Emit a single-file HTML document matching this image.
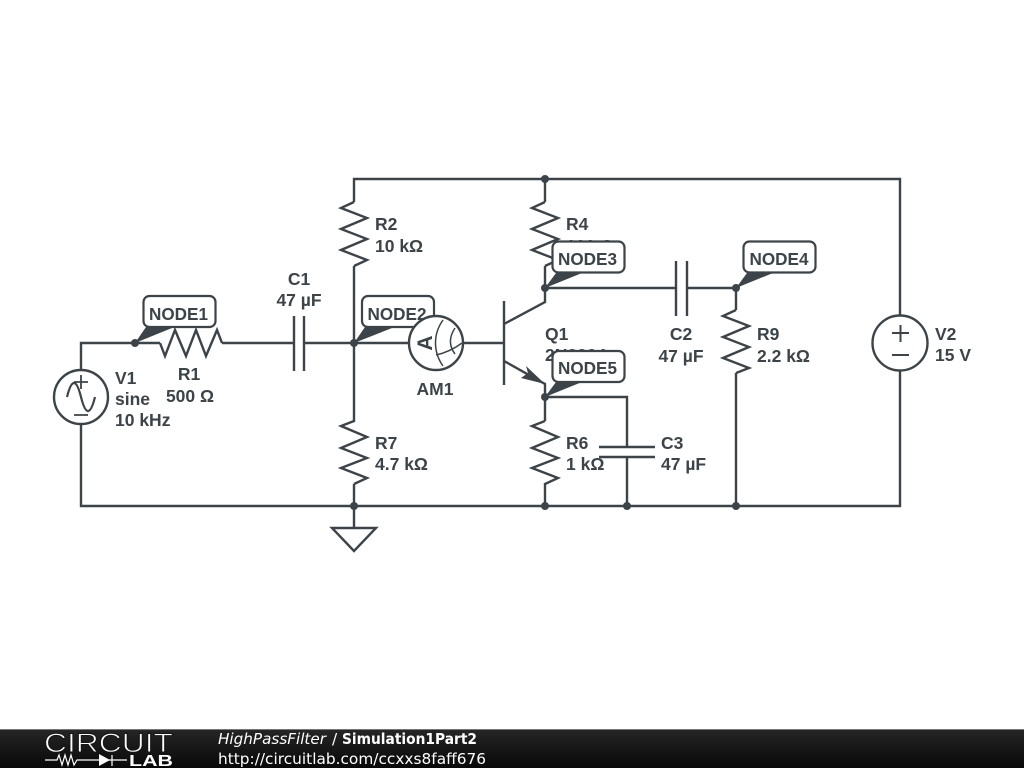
<!DOCTYPE html>
<html><head><meta charset="utf-8"><style>
html,body{margin:0;padding:0;background:#fff}
svg{display:block}
.w{fill:none;stroke:#3c4449;stroke-width:2.4;stroke-linejoin:miter}
.s{fill:none;stroke:#3c4449;stroke-width:1.8}
.t{font:bold 17.5px "Liberation Sans",sans-serif;fill:#3c4449}
.l{font:bold 17.5px "Liberation Sans",sans-serif;fill:#3c4449}
.d{fill:#3c4449}
.n{fill:#fff;stroke:#3c4449;stroke-width:2.2}
.f{font-family:"DejaVu Sans",sans-serif;font-size:15.36px;fill:#fff}
</style></head><body>
<svg width="1024" height="768" viewBox="0 0 1024 768" xmlns="http://www.w3.org/2000/svg">
<defs><linearGradient id="g" x1="0" y1="0" x2="0" y2="1"><stop offset="0" stop-color="#262626"/><stop offset="1" stop-color="#080808"/></linearGradient></defs>
<rect width="1024" height="768" fill="#fff"/>

<!-- wires -->
<path class="w" d="M354 343V266M354 202V179H900V316M900 370V506H81V424M81 370V343H160M222 343H294M304 343H409M463 343H504"/>
<path class="w" d="M545 179V202M545 266V302L504 324M504 361L545 384V421M545 483V506M545 288H676M687 288H736V310M736 373V506"/>
<path class="w" d="M354 343V422M354 484V528M545 397H627V447M627 457V506"/>

<!-- resistors -->
<path class="w" d="M160 343L165 356L175 330L186 356L196 330L206 356L217 330L222 343"/>
<path class="w" d="M354 202L341 208L367 218L341 229L367 239L341 250L367 260L354 266"/>
<path class="w" d="M545 202L532 208L558 218L532 229L558 239L532 250L558 260L545 266"/>
<path class="w" d="M354 421L341 426L367 437L341 448L367 458L341 468L367 478L354 484"/>
<path class="w" d="M545 421L532 426L558 437L532 448L558 458L532 468L558 478L545 484"/>
<path class="w" d="M736 310L723 316L749 326L723 337L749 347L723 358L749 368L736 373"/>

<!-- capacitors -->
<path class="w" d="M294 316V371M304 316V371M676 261V316M687 261V316M599 447H655M599 457H655"/>

<!-- transistor -->
<path class="w" d="M504 301V385"/>
<path class="d" d="M526 366L545 384L521 378L528 373Z"/>

<!-- ground -->
<path class="w" d="M332 528H376L354 551Z"/>

<!-- sources -->
<circle class="w" cx="81" cy="397" r="27"/>
<path class="s" d="M74 382H88M81 375V389M74 415H88"/>
<path class="s" style="stroke-width:2.200" d="M67 397Q74 369 81 397T95 397"/>
<circle class="w" cx="900" cy="343" r="27.500"/>
<path class="s" style="stroke-width:2" d="M892 333H909M900.500 325V342M892 355H909"/>

<!-- text -->
<text class="t" x="115" y="384">V1</text>
<text class="t" x="115" y="405">sine</text>
<text class="t" x="115" y="426">10 kHz</text>
<text class="t" x="189" y="380" text-anchor="middle">R1</text>
<text class="t" x="190" y="402" text-anchor="middle">500 Ω</text>
<text class="t" x="299" y="285" text-anchor="middle">C1</text>
<text class="t" x="299" y="306" text-anchor="middle">47 µF</text>
<text class="t" x="375" y="230">R2</text>
<text class="t" x="375" y="252">10 kΩ</text>
<text class="t" x="375" y="449">R7</text>
<text class="t" x="375" y="470">4.7 kΩ</text>
<text class="t" x="435" y="395" text-anchor="middle">AM1</text>
<text class="t" x="566" y="230">R4</text>
<text class="t" x="566" y="252">100 Ω</text>
<text class="t" x="545" y="340">Q1</text>
<text class="t" x="545" y="361">2N3904</text>
<text class="t" x="566" y="449">R6</text>
<text class="t" x="566" y="470">1 kΩ</text>
<text class="t" x="661" y="449">C3</text>
<text class="t" x="661" y="470">47 µF</text>
<text class="t" x="681" y="340" text-anchor="middle">C2</text>
<text class="t" x="681" y="362" text-anchor="middle">47 µF</text>
<text class="t" x="757" y="340">R9</text>
<text class="t" x="757" y="362">2.2 kΩ</text>
<text class="t" x="935" y="340">V2</text>
<text class="t" x="935" y="361">15 V</text>

<!-- node labels -->
<rect class="n" x="143.500" y="296" width="72" height="31" rx="6"/>
<text class="l" x="149" y="320" textLength="59" lengthAdjust="spacingAndGlyphs">NODE1</text>
<path class="d" d="M135 343L146 327L172 328Z"/>
<rect class="n" x="362" y="296" width="72" height="31" rx="6"/>
<text class="l" x="367.500" y="320" textLength="59" lengthAdjust="spacingAndGlyphs">NODE2</text>
<path class="d" d="M354 343L365 327L392 328Z"/>
<!-- ammeter -->
<circle cx="436" cy="343" r="27" fill="#fff" stroke="#3c4449" stroke-width="2.400"/>
<path class="s" style="stroke-width:1.500" d="M443 320C433 334 433 352 443 366M455 328C449 337 449 346 455 354M436 355C445 353 454 349 462 343"/>
<text class="t" transform="translate(432,343) rotate(-90)" text-anchor="middle" style="font-size:21px">A</text>

<rect class="n" x="552.500" y="241.500" width="72" height="31" rx="6"/>
<text class="l" x="558" y="265" textLength="59" lengthAdjust="spacingAndGlyphs">NODE3</text>
<path class="d" d="M545 288L556 273L582 273Z"/>
<rect class="n" x="743.500" y="241.500" width="72" height="31" rx="6"/>
<text class="l" x="749.500" y="265" textLength="59" lengthAdjust="spacingAndGlyphs">NODE4</text>
<path class="d" d="M736 288L747 273L773 273Z"/>
<rect class="n" x="552.500" y="351" width="72" height="31" rx="6"/>
<text class="l" x="558" y="374" textLength="59" lengthAdjust="spacingAndGlyphs">NODE5</text>
<path class="d" d="M545 397L556 382L582 382Z"/>

<!-- junctions -->
<g class="d">
<circle cx="135" cy="343" r="4"/><circle cx="354" cy="343" r="4"/><circle cx="545" cy="179" r="4"/>
<circle cx="545" cy="288" r="4"/><circle cx="736" cy="288" r="4"/><circle cx="545" cy="397" r="4"/>
<circle cx="354" cy="506" r="4"/><circle cx="545" cy="506" r="4"/><circle cx="627" cy="506" r="4"/><circle cx="736" cy="506" r="4"/>
</g>

<!-- footer -->
<rect x="0" y="729" width="1024" height="39" fill="url(#g)"/>
<rect x="0" y="729" width="1024" height="1" fill="#777"/>
<text x="44" y="752" textLength="129" lengthAdjust="spacingAndGlyphs" style="font:26.500px 'Liberation Sans',sans-serif;fill:#fff;stroke:#161616;stroke-width:.9">CIRCUIT</text>
<path d="M45 760H57L59 755L62 765L65 755L68 765L71 755L74 765L77 760H99M112 755V766M108 760H127" fill="none" stroke="#fff" stroke-width="1.200"/>
<path d="M99 754L110 760L99 766Z" fill="#fff"/>
<text x="129" y="766" textLength="44" lengthAdjust="spacingAndGlyphs" style="font:bold 16px 'Liberation Sans',sans-serif;fill:#fff">LAB</text>
<text class="f" x="218" y="744" font-style="italic" textLength="108" lengthAdjust="spacingAndGlyphs">HighPassFilter</text>
<text class="f" x="332" y="744">/</text>
<text class="f" x="342" y="744" font-weight="bold" textLength="135" lengthAdjust="spacingAndGlyphs">Simulation1Part2</text>
<text class="f" x="218" y="764" textLength="268" lengthAdjust="spacingAndGlyphs">http://circuitlab.com/ccxxs8faff676</text>
</svg>
</body></html>
